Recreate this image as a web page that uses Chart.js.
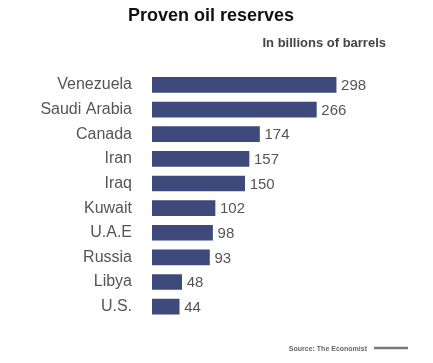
<!DOCTYPE html>
<html>
<head>
<meta charset="utf-8">
<script src="https://cdn.jsdelivr.net/npm/chart.js@4/dist/chart.umd.min.js"></script>
<style>
  html, body { margin: 0; padding: 0; background: #fff; }
  #chart { display: block; }
</style>
</head>
<body>
<canvas id="chart" width="433" height="363"></canvas>
<script>
// Proven oil reserves, billions of barrels
const countries = ['Venezuela', 'Saudi Arabia', 'Canada', 'Iran', 'Iraq', 'Kuwait', 'U.A.E', 'Russia', 'Libya', 'U.S.'];
const reserves = [298, 266, 174, 157, 150, 102, 98, 93, 48, 44];
const unitText = 'In billions of barrels';
const sourceText = 'Source: The Economist';

const BAR_COLOR = '#3f4a7c';
const TEXT_COLOR = '#555';
const FONT = '"Liberation Sans", Arial, sans-serif';

// value labels beside the bars, unit note under the title, source credit
const extras = {
    id: 'extras',
    afterDatasetsDraw(chart) {
        const ctx = chart.ctx;
        const meta = chart.getDatasetMeta(0);
        ctx.save();
        ctx.font = '15px ' + FONT;
        ctx.fillStyle = TEXT_COLOR;
        ctx.textAlign = 'left';
        ctx.textBaseline = 'middle';
        meta.data.forEach((bar, i) => {
            ctx.fillText(String(reserves[i]), bar.x + 5, bar.y + 1);
        });

        ctx.font = 'bold 13px ' + FONT;
        ctx.fillStyle = '#444';
        ctx.textAlign = 'right';
        ctx.fillText(unitText, 386, 43);

        ctx.font = 'bold 7px ' + FONT;
        ctx.fillStyle = '#666';
        ctx.fillText(sourceText, 367, 349);
        ctx.strokeStyle = '#777';
        ctx.lineWidth = 2.5;
        ctx.beginPath();
        ctx.moveTo(374, 348);
        ctx.lineTo(408, 348);
        ctx.stroke();
        ctx.restore();
    }
};

new Chart(document.getElementById('chart'), {
    type: 'bar',
    data: {
        labels: countries,
        datasets: [{
            data: reserves,
            backgroundColor: BAR_COLOR,
            barThickness: 15
        }]
    },
    options: {
        indexAxis: 'y',
        responsive: false,
        animation: false,
        layout: {
            padding: { left: 0, right: 11, top: 0, bottom: 44 }
        },
        plugins: {
            legend: { display: false },
            tooltip: { enabled: false },
            title: {
                display: true,
                text: 'Proven oil reserves',
                color: '#111',
                font: { family: FONT, size: 18, weight: 'bold' },
                padding: { top: 5, bottom: 46 }
            }
        },
        scales: {
            x: {
                display: false,
                min: 0,
                max: 437
            },
            y: {
                grid: { display: false, drawTicks: false },
                border: { display: false },
                ticks: {
                    color: TEXT_COLOR,
                    padding: 20,
                    font: { family: FONT, size: 16 }
                },
                afterFit(scale) { scale.width = 152; }
            }
        }
    },
    plugins: [extras]
});
</script>
</body>
</html>
